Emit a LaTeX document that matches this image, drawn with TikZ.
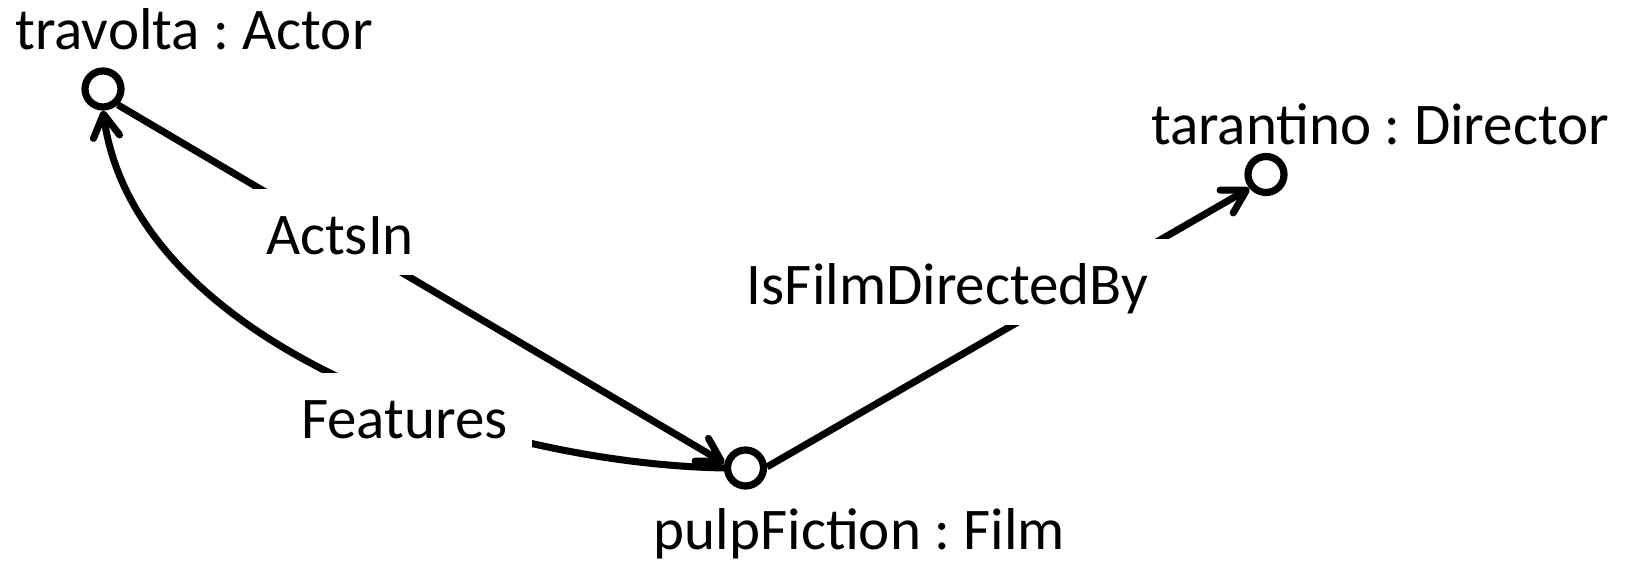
\documentclass[tikz,border=0pt]{standalone}
\usepackage{fontspec}
\setmainfont{Carlito}
\frenchspacing
\usetikzlibrary{arrows.meta}

\begin{document}
\begin{tikzpicture}[x=0.02cm, y=0.02cm,
    obj/.style={circle, draw, line width=4.1pt, minimum size=0.72cm, inner sep=0pt},
    relline/.style={line width=4pt, -{Straight Barb[length=13pt, width=15pt, round]}},
    objname/.style={anchor=base, font=\fontsize{33.6}{40}\selectfont, inner sep=0pt},
    rellabel/.style={objname, fill=white, inner xsep=14pt, inner ysep=11.4pt, text height=26pt, text depth=0pt}]
    % Fix the canvas to the size of the figure
    \useasboundingbox (0,0) rectangle (1635,563);

    % The three objects as small circles
    \node[obj] (travolta) at (103,474) {};
    \node[obj] (pulp) at (745.5,95) {};
    \node[obj] (tarantino) at (1266,388.5) {};

    % Names of the objects
    \node[objname] (travolta-name) at (194,513) {travolta : Actor};
    \node[objname] (pulp-name) at (859.5,13) {pulpFiction : Film};
    \node[objname] (tarantino-name) at (1380,418) {tarantino : Director};

    % Relations between the objects
    \draw[relline] (travolta.-47) -- (pulp.167);
    \draw[relline] (pulp.3) -- (tarantino.220);
    \draw[relline] (pulp.180) .. controls (477,100) and (134,223) .. (travolta.-90);

    % Relation names, drawn over the lines
    \node[rellabel] (actsin) at (340,308) {ActsIn};
    \node[rellabel] (features) at (404.5,124) {Features};
    \node[rellabel] (directedby) at (947.5,258) {IsFilmDirectedBy};
\end{tikzpicture}
\end{document}
